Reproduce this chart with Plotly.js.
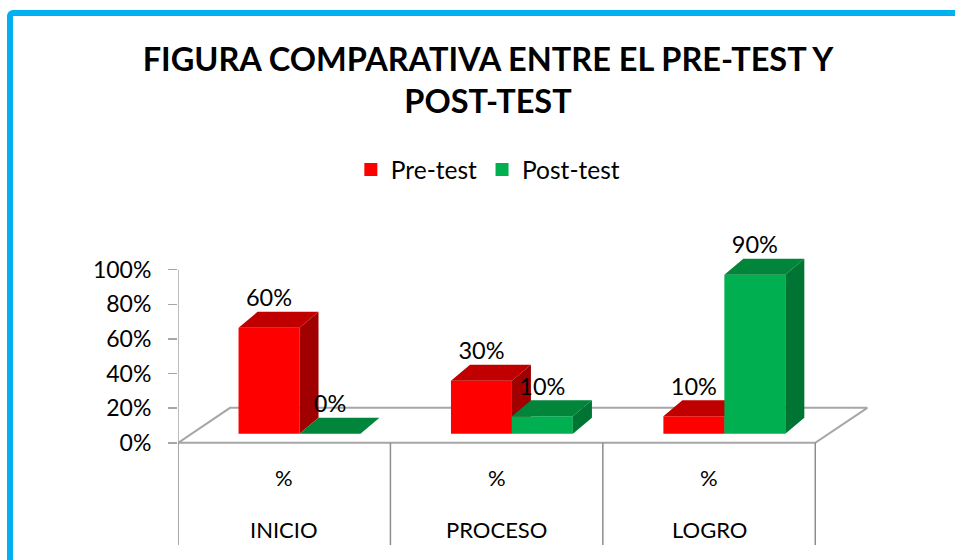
<!DOCTYPE html>
<html>
<head>
<meta charset="utf-8">
<script src="https://cdn.plot.ly/plotly-3.0.1.min.js"></script>
<style>
  html, body { margin:0; padding:0; background:#ffffff; overflow:hidden; }
  #frame { position:absolute; left:7px; top:10px; width:2000px; height:2000px;
           border:6px solid #00b0f0; border-radius:6px; box-sizing:border-box; }
  #chart { position:absolute; left:0; top:0; width:955px; height:560px; }
</style>
</head>
<body>
<div id="frame"></div>
<div id="chart"></div>
<script>
// ---- data ----
const categories = ['INICIO', 'PROCESO', 'LOGRO'];
const subLabels = ['%', '%', '%'];
const preTest = [60, 30, 10];
const postTest = [0, 10, 90];
const seriesNames = ['Pre-test', 'Post-test'];
const yTickVals = [0, 20, 40, 60, 80, 100];
const yTickText = ['0%', '20%', '40%', '60%', '80%', '100%'];

// ---- styles ----
const FONT = 'Lato, "Open Sans", sans-serif';
const colors = [
  { front: '#ff0000', top: '#c00000', side: '#a00000' },
  { front: '#00b050', top: '#00853a', side: '#007433' }
];
const gray = '#a6a6a6';

// 3D geometry (in axis units)
const base = 5.2;        // bar front baseline above floor front edge
const hScale = 1.02;     // front-face height scale
const barW = 0.287;      // width of a bar
const pairOff = 0.072;   // x of the boundary between the two bars, relative to category
const depthX = 0.0895;   // bar depth offset (x)
const depthY = 9.25;     // bar depth offset (y)
const floorDX = 0.245;   // floor depth (x)
const floorDY = 20.2;    // floor depth (y)
const labelGap = 6.5;

const traces = [];

// floor
traces.push({
  type: 'scatter', mode: 'lines', hoverinfo: 'skip', showlegend: false,
  x: [-0.5, categories.length - 0.5, categories.length - 0.5 + floorDX, -0.5 + floorDX, -0.5],
  y: [0, 0, floorDY, floorDY, 0],
  fill: 'toself', fillcolor: '#ffffff',
  line: { color: gray, width: 2 }
});

// y axis line
traces.push({
  type: 'scatter', mode: 'lines', hoverinfo: 'skip', showlegend: false,
  x: [-0.5, -0.5], y: [0, yTickVals[yTickVals.length - 1]],
  line: { color: gray, width: 1.5 }
});

// table lines below floor
for (let i = 0; i <= categories.length; i++) {
  traces.push({
    type: 'scatter', mode: 'lines', hoverinfo: 'skip', showlegend: false,
    x: [i - 0.5, i - 0.5], y: [0, -59],
    line: { color: '#8c8c8c', width: 1.5 }
  });
}

function poly(xs, ys, color) {
  traces.push({
    type: 'scatter', mode: 'lines', hoverinfo: 'skip', showlegend: false,
    x: xs.concat([xs[0]]), y: ys.concat([ys[0]]),
    fill: 'toself', fillcolor: color, line: { width: 0, color: color }
  });
}

const series = [preTest, postTest];
const labelX = [], labelY = [], labelT = [];
categories.forEach((c, i) => {
  series.forEach((vals, s) => {
    const x0 = i + pairOff - barW + s * barW;
    const x1 = x0 + barW;
    const t = base + vals[i] * hScale;
    const col = colors[s];
    // front
    if (vals[i] > 0) poly([x0, x1, x1, x0], [base, base, t, t], col.front);
    // top
    poly([x0, x1, x1 + depthX, x0 + depthX], [t, t, t + depthY, t + depthY], col.top);
    // side
    poly([x1, x1 + depthX, x1 + depthX, x1], [base, base + depthY, t + depthY, t], col.side);
    labelX.push((x0 + x1) / 2);
    labelY.push(t + depthY + labelGap);
    labelT.push(vals[i] + '%');
  });
});

// data labels
traces.push({
  type: 'scatter', mode: 'text', hoverinfo: 'skip', showlegend: false, cliponaxis: false,
  x: labelX, y: labelY, text: labelT, textposition: 'middle center',
  textfont: { family: FONT, size: 23.5, color: '#000000' }
});

// legend entries
seriesNames.forEach((n, s) => {
  traces.push({
    type: 'scatter', mode: 'markers', name: n, x: [null], y: [null],
    marker: { symbol: 'square', size: 13, color: colors[s].front }
  });
});

const annotations = [];
categories.forEach((c, i) => {
  annotations.push({ x: i, y: -20, xref: 'x', yref: 'y', text: subLabels[i], showarrow: false,
    font: { family: FONT, size: 22, color: '#000' } });
  annotations.push({ x: i, y: -50, xref: 'x', yref: 'y', text: c, showarrow: false,
    font: { family: FONT, size: 22, color: '#000' } });
});

const layout = {
  width: 955, height: 560,
  margin: { l: 178, r: 76.4, t: 235.4, b: 10, pad: 0 },
  paper_bgcolor: 'rgba(0,0,0,0)', plot_bgcolor: 'rgba(0,0,0,0)',
  showlegend: true,
  title: {
    text: '<b>FIGURA COMPARATIVA ENTRE EL PRE-TEST Y<br>POST-TEST</b>',
    font: { family: FONT, size: 32.5, color: '#000000' },
    xref: 'container', yref: 'container', x: 0.511, xanchor: 'center',
    y: 0.873, yanchor: 'top'
  },
  legend: {
    orientation: 'h', x: 0.442, xanchor: 'center', y: 1.208, yanchor: 'middle',
    font: { family: FONT, size: 24.5, color: '#000' }, itemwidth: 30,
    bgcolor: 'rgba(0,0,0,0)'
  },
  xaxis: {
    range: [-0.5, 2.8], showgrid: false, zeroline: false, showline: false,
    showticklabels: false, ticks: '', fixedrange: true
  },
  yaxis: {
    range: [-61.85, 120], showgrid: false, zeroline: false, showline: false,
    tickvals: yTickVals, ticktext: yTickText, ticks: 'outside', ticklen: 9,
    tickcolor: gray, tickwidth: 1.5, ticklabelstandoff: 12,
    tickfont: { family: FONT, size: 23, color: '#000' }, fixedrange: true
  },
  annotations: annotations
};

Plotly.newPlot('chart', traces, layout, { displayModeBar: false, staticPlot: true });
</script>
</body>
</html>
